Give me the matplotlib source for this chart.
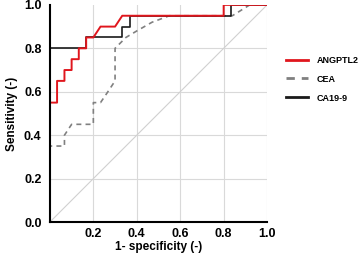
import matplotlib
matplotlib.use("Agg")
import matplotlib.pyplot as plt

# ANGPTL2 ROC points (1-specificity, sensitivity)
angptl2_x = [0.0, 0.0, 0.033, 0.033, 0.067, 0.067, 0.1, 0.1, 0.133, 0.133, 0.167, 0.167, 0.2, 0.233, 0.3, 0.333, 0.8, 0.8, 1.0]
angptl2_y = [0.0, 0.55, 0.55, 0.65, 0.65, 0.70, 0.70, 0.75, 0.75, 0.80, 0.80, 0.85, 0.85, 0.90, 0.90, 0.95, 0.95, 1.0, 1.0]

# CEA ROC points
cea_x = [0.0, 0.0, 0.067, 0.067, 0.1, 0.2, 0.2, 0.233, 0.267, 0.3, 0.3, 0.35, 0.4, 0.47, 0.55, 0.84, 0.92, 1.0]
cea_y = [0.0, 0.35, 0.35, 0.40, 0.45, 0.45, 0.55, 0.55, 0.60, 0.65, 0.80, 0.85, 0.88, 0.92, 0.95, 0.95, 1.0, 1.0]

# CA19-9 ROC points
ca199_x = [0.0, 0.0, 0.167, 0.167, 0.333, 0.333, 0.367, 0.367, 0.833, 0.833, 1.0]
ca199_y = [0.0, 0.80, 0.80, 0.85, 0.85, 0.90, 0.90, 0.95, 0.95, 1.0, 1.0]

x_ticks = [0.2, 0.4, 0.6, 0.8, 1.0]
y_ticks = [0.0, 0.2, 0.4, 0.6, 0.8, 1.0]

plt.rcParams['font.family'] = ['Liberation Sans', 'DejaVu Sans']

fig = plt.figure(figsize=(3.59, 2.57), dpi=100)
ax = fig.add_axes([0.139, 0.136, 0.605, 0.845])

for v in [0.2, 0.4, 0.6, 0.8, 1.0]:
    ax.axvline(v, color='#d9d9d9', lw=0.8, zorder=0)
for v in [0.2, 0.4, 0.6, 0.8]:
    ax.axhline(v, color='#d9d9d9', lw=0.8, zorder=0)
ax.plot([0, 1], [0, 1], color='#d0d0d0', lw=0.8, zorder=1)

ax.plot(cea_x, cea_y, color='#808080', lw=1.2, ls=(0, (3, 2.5)), label='CEA', zorder=2)
ax.plot(ca199_x, ca199_y, color='#1a1a1a', lw=1.2, label='CA19-9', zorder=3)
ax.plot(angptl2_x, angptl2_y, color='#e0161d', lw=1.4, label='ANGPTL2', zorder=4)

ax.set_xlim(0, 1)
ax.set_ylim(0, 1)
ax.set_xticks(x_ticks)
ax.set_yticks(y_ticks)
ax.set_xticklabels([f"{t:.1f}" for t in x_ticks], fontsize=9, fontweight='bold')
ax.set_yticklabels([f"{t:.1f}" for t in y_ticks], fontsize=9, fontweight='bold')
ax.tick_params(axis='x', length=0, pad=4)
ax.tick_params(axis='y', length=0, pad=6)
ax.set_xlabel('1- specificity (-)', fontsize=8.5, fontweight='bold', labelpad=1)
ax.set_ylabel('Sensitivity (-)', fontsize=8.5, fontweight='bold', labelpad=4)

for s in ['top', 'right']:
    ax.spines[s].set_visible(False)
for s in ['left', 'bottom']:
    ax.spines[s].set_linewidth(1.5)
    ax.spines[s].set_color('black')
    ax.spines[s].set_zorder(5)

handles, labels = ax.get_legend_handles_labels()
order = [2, 0, 1]
leg = fig.legend([handles[i] for i in order], [labels[i] for i in order],
                 loc='upper left', bbox_to_anchor=(0.775, 0.815), frameon=False,
                 prop={'size': 6.5, 'weight': 'bold'}, handlelength=2.4,
                 labelspacing=1.1, handletextpad=1.0)
for ln in leg.get_lines():
    ln.set_linewidth(2.0)

fig.savefig('out.png', dpi=100)
